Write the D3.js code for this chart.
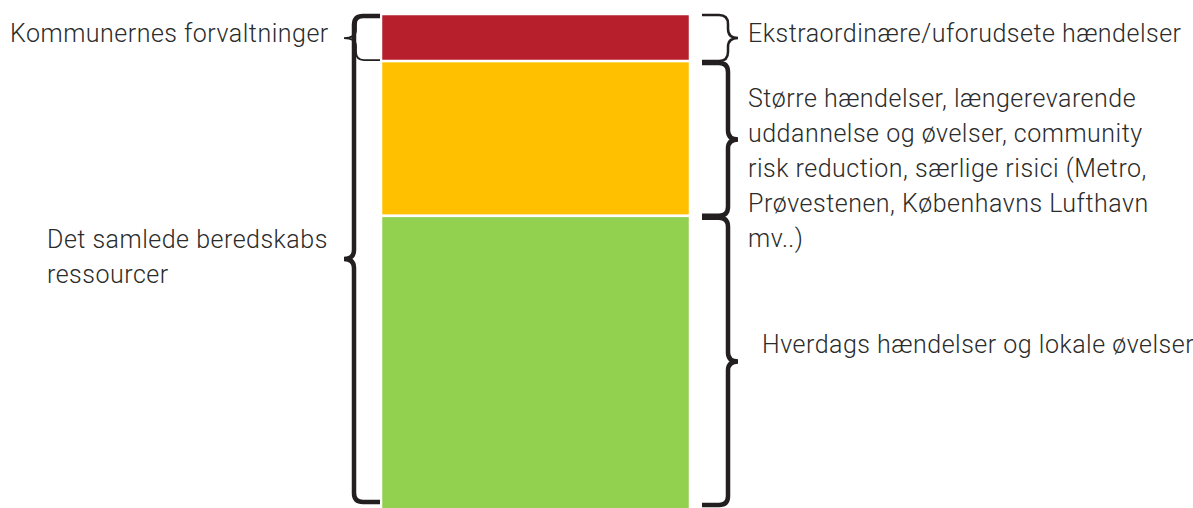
<!DOCTYPE html>
<head>
<meta charset="utf-8">
<title>Beredskab - stablet søjle</title>
<style>
    body {
        margin: 0;
        background: white;
    }

    .label text {
        font-family: Roboto, "Open Sans", sans-serif;
        font-weight: 300;
        font-size: 25px;
        letter-spacing: 0.5px;
        fill: #2b2b2b;
    }

    .brace {
        fill: none;
        stroke: #231f20;
        stroke-linecap: butt;
    }
</style>
</head>
<body>
<svg></svg>
<script src="https://cdn.jsdelivr.net/npm/d3@7"></script>
<script>

    // data
    var segments = ["Ekstraordinære", "Større", "Hverdags"];
    var values = [9.5, 31.2, 59.3];
    var colors = ["#b71f2d", "#ffc000", "#92d050"];

    var leftLabels = [
        ["Kommunernes forvaltninger"],
        ["Det samlede beredskabs", "ressourcer"]
    ];
    var rightLabels = [
        ["Ekstraordinære/uforudsete hændelser"],
        ["Større hændelser, længerevarende", "uddannelse og øvelser, community",
            "risk reduction, særlige risici (Metro,", "Prøvestenen, Københavns Lufthavn", "mv..)"],
        ["Hverdags hændelser og lokale øvelser"]
    ];

    var svg = d3.select("svg")
        .attr("width", 1193)
        .attr("height", 508);

    var margin = {top: 14, bottom: -2};

    var x = d3.scaleBand()
        .domain(["beredskab"])
        .range([381, 690]);

    var y = d3.scaleLinear()
        .domain([0, d3.sum(values)])
        .range([508 - margin.bottom, margin.top]);

    // stack the values from the bottom up (green at bottom)
    var stack = [];
    var acc = 0;
    for (var i = values.length - 1; i >= 0; i--) {
        stack[i] = {name: segments[i], y0: acc, y1: acc + values[i], color: colors[i]};
        acc += values[i];
    }

    svg.append("g")
        .selectAll("rect")
        .data(stack)
        .enter().append("rect")
        .attr("x", x("beredskab"))
        .attr("width", x.bandwidth())
        .attr("y", function (d) { return y(d.y1); })
        .attr("height", function (d) { return y(d.y0) - y(d.y1); })
        .attr("fill", function (d) { return d.color; })
        .attr("stroke", "white")
        .attr("stroke-width", 2.5);

    // curly brace: xe = end near bar, xv = vertical line, xt = tip
    function brace(xe, xv, xt, y0, y1, r) {
        var dir = xe > xv ? 1 : -1;
        var ym = (y0 + y1) / 2;
        var r2 = Math.min(r, (y1 - y0) / 4);
        var p = d3.path();
        p.moveTo(xe, y0);
        p.lineTo(xv + dir * r2, y0);
        p.quadraticCurveTo(xv, y0, xv, y0 + r2);
        p.lineTo(xv, ym - r2);
        p.quadraticCurveTo(xv, ym, xt, ym);
        p.quadraticCurveTo(xv, ym, xv, ym + r2);
        p.lineTo(xv, y1 - r2);
        p.quadraticCurveTo(xv, y1, xv + dir * r2, y1);
        p.lineTo(xe, y1);
        return p.toString();
    }

    var barLeft = x("beredskab"), barRight = x("beredskab") + x.bandwidth();

    // left braces
    svg.append("path").attr("class", "brace")
        .attr("stroke-width", 4.5)
        .attr("d", brace(barLeft - 1, 354, 344, y(d3.sum(values)) + 2, 502, 9));
    svg.append("path").attr("class", "brace")
        .attr("stroke-width", 1.8)
        .attr("d", brace(barLeft - 1, 356, 344, y(d3.sum(values)) + 2, y(stack[1].y1) - 1, 8));

    // right braces, one per segment
    svg.selectAll(".rbrace")
        .data(stack)
        .enter().append("path")
        .attr("class", "brace rbrace")
        .attr("stroke-width", function (d, i) { return i === 0 ? 2.5 : 4.5; })
        .attr("d", function (d, i) {
            var top = y(d.y1) + (i === 0 ? 1 : 2);
            var bot = i === stack.length - 1 ? 505 : y(d.y0);
            return brace(barRight + 12, 728, 738, top, bot, 9);
        });

    // labels
    var lineH = 35;

    function addLabel(lines, xPos, baseline) {
        var g = svg.append("g").attr("class", "label");
        g.selectAll("text")
            .data(lines)
            .enter().append("text")
            .attr("x", xPos)
            .attr("y", function (d, i) { return baseline + i * lineH; })
            .text(function (d) { return d; });
    }

    addLabel(leftLabels[0], 10, 42);
    addLabel(leftLabels[1], 47, 248);
    addLabel(rightLabels[0], 748, 42);
    addLabel(rightLabels[1], 748, 107);
    addLabel(rightLabels[2], 762, 353);

</script>
</body>
